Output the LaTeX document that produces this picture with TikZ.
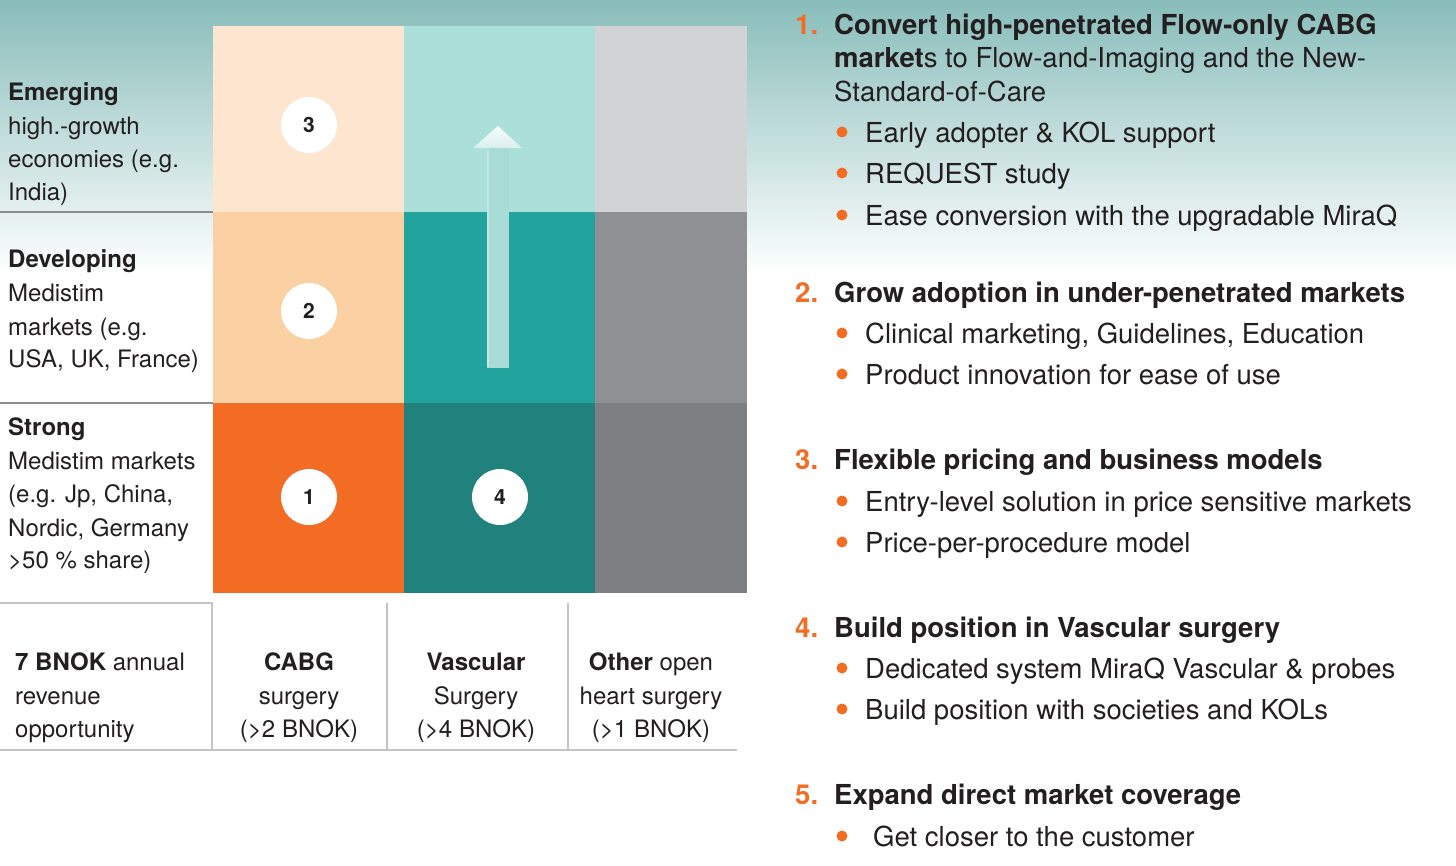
\documentclass[tikz,border=0pt]{standalone}
\usepackage{fontspec}
\setmainfont{TeX Gyre Heros}
\definecolor{txtc}{HTML}{231F20}
\definecolor{orng}{HTML}{F26C24}
\definecolor{peachA}{HTML}{FDE5D0}
\definecolor{peachB}{HTML}{FBD1A3}
\definecolor{tealA}{HTML}{ABDFD9}
\definecolor{tealB}{HTML}{23A39D}
\definecolor{tealC}{HTML}{21827D}
\definecolor{grayA}{HTML}{D2D3D5}
\definecolor{grayB}{HTML}{8F9094}
\definecolor{grayC}{HTML}{7E7F83}
\definecolor{bgtop}{HTML}{88BDBA}
\definecolor{arrowc}{HTML}{A9DBD6}
\definecolor{rule}{HTML}{8C8C8C}
\definecolor{rulelight}{HTML}{C4C4C4}
\tikzset{
  ltxt/.style={anchor=base west,inner sep=0pt,text=txtc,font=\fontsize{24}{28}\selectfont},
  rtxt/.style={anchor=base west,inner sep=0pt,text=txtc,font=\fontsize{27.5}{32}\selectfont},
  ctxt/.style={anchor=base,inner sep=0pt,text=txtc,font=\fontsize{24}{28}\selectfont},
  numlab/.style={anchor=base west,inner sep=0pt,text=orng,font=\fontsize{27.5}{32}\selectfont\bfseries},
  bdot/.style={circle,fill=orng,inner sep=0pt,minimum size=11pt},
  badge/.style={circle,fill=white,inner sep=0pt,minimum size=56pt,text=txtc,font=\fontsize{21}{24}\selectfont\bfseries},
  cell/.style={draw=none,inner sep=0pt}
}
\begin{document}
\begin{tikzpicture}[x=1pt,y=-1pt]
\useasboundingbox (0,0) rectangle (1456,865);
% background gradient
\fill[white] (0,0) rectangle (1456,865);
\shade[top color=bgtop,bottom color=white] (0,0) rectangle (1456,275);
% grid cells
\fill[peachA] (213,26) rectangle (404,212);
\fill[tealA] (404,26) rectangle (595,212);
\fill[grayA] (595,26) rectangle (747,212);
\fill[peachB] (213,212) rectangle (404,403);
\fill[tealB] (404,212) rectangle (595,403);
\fill[grayB] (595,212) rectangle (747,403);
\fill[orng] (213,403) rectangle (404,593);
\fill[tealC] (404,403) rectangle (595,593);
\fill[grayC] (595,403) rectangle (747,593);
% left separators
\coordinate (sa1) at (0,212); \coordinate (sa2) at (213,212);
\coordinate (sb1) at (0,403); \coordinate (sb2) at (213,403);
\draw[rule,line width=1.3pt] (sa1) -- (sa2);
\draw[rule,line width=1.3pt] (sb1) -- (sb2);
% arrow
\fill[arrowc] (487,148) rectangle (509,368);
\draw[white,opacity=0.35,line width=1.5pt] (488,150) -- (488,367);
\shade[top color=white!92!arrowc,bottom color=white!55!arrowc] (498,126) -- (522,148) -- (473,148) -- cycle;
% badges
\node[badge] (b3) at (309,125) {3};
\node[badge] (b2) at (309,311) {2};
\node[badge] (b1) at (309,497) {1};
\node[badge] (b4) at (500,497) {4};
% left labels
\node[ltxt] (e1) at (8,100.5) {\textbf{Emerging}};
\node[ltxt] (e2) at (8,134.5) {high.-growth};
\node[ltxt] (e3) at (8,167.5) {economies (e.g.};
\node[ltxt] (e4) at (8,200.5) {India)};
\node[ltxt] (d1) at (8,267.5) {\textbf{Developing}};
\node[ltxt] (d2) at (8,301.5) {Medistim};
\node[ltxt] (d3) at (8,335.5) {markets (e.g.};
\node[ltxt] (d4) at (8,367.5) {USA, UK, France)};
\node[ltxt] (s1) at (8,435.5) {\textbf{Strong}};
\node[ltxt] (s2) at (8,469.5) {Medistim markets};
\node[ltxt] (s3) at (8,502.5) {(e.g. Jp, China,};
\node[ltxt] (s4) at (8,536.5) {Nordic, Germany};
\node[ltxt] (s5) at (8,568.5) {>50 \% share)};
% bottom table lines
\coordinate (t1) at (0,603); \coordinate (t2) at (212,603);
\coordinate (t3) at (212,750); \coordinate (t4) at (0,750); \coordinate (t5) at (737,750);
\coordinate (v1a) at (387,603); \coordinate (v1b) at (387,750);
\coordinate (v2a) at (568,603); \coordinate (v2b) at (568,750);
\draw[rulelight,line width=1.5pt] (t1) -- (t2) -- (t3);
\draw[rulelight,line width=1.5pt] (t4) -- (t5);
\draw[rulelight,line width=1.2pt] (v1a) -- (v1b);
\draw[rulelight,line width=1.2pt] (v2a) -- (v2b);
% bottom table text
\node[ltxt] (o1) at (15,670.5) {\textbf{7 BNOK} annual};
\node[ltxt] (o2) at (15,704.5) {revenue};
\node[ltxt] (o3) at (15,737.5) {opportunity};
\node[ctxt] (c1) at (299,670.5) {\textbf{CABG}};
\node[ctxt] (c2) at (299,704.5) {surgery};
\node[ctxt] (c3) at (299,737.5) {(>2 BNOK)};
\node[ctxt] (vv1) at (476,670.5) {\textbf{Vascular}};
\node[ctxt] (vv2) at (476,704.5) {Surgery};
\node[ctxt] (vv3) at (476,737.5) {(>4 BNOK)};
\node[ctxt] (x1) at (651,670.5) {\textbf{Other} open};
\node[ctxt] (x2) at (651,704.5) {heart surgery};
\node[ctxt] (x3) at (651,737.5) {(>1 BNOK)};
% right side
\node[numlab] (n1) at (795,34) {1.};
\node[rtxt] (h1a) at (834,34) {\textbf{Convert high-penetrated Flow-only CABG}};
\node[rtxt] (h1b) at (834,67) {\textbf{market}s to Flow-and-Imaging and the New-};
\node[rtxt] (h1c) at (834,101) {Standard-of-Care};
\node[bdot] (d11) at (842,132) {}; \node[rtxt] (i11) at (865,142) {Early adopter \& KOL support};
\node[bdot] (d12) at (842,173) {}; \node[rtxt] (i12) at (865,183) {REQUEST study};
\node[bdot] (d13) at (842,215) {}; \node[rtxt] (i13) at (865,225) {Ease conversion with the upgradable MiraQ};
\node[numlab] (n2) at (795,302) {2.};
\node[rtxt] (h2) at (834,302) {\textbf{Grow adoption in under-penetrated markets}};
\node[bdot] (d21) at (842,333) {}; \node[rtxt] (i21) at (865,343) {Clinical marketing, Guidelines, Education};
\node[bdot] (d22) at (842,374) {}; \node[rtxt] (i22) at (865,384) {Product innovation for ease of use};
\node[numlab] (n3) at (795,469) {3.};
\node[rtxt] (h3) at (834,469) {\textbf{Flexible pricing and business models}};
\node[bdot] (d31) at (842,501) {}; \node[rtxt] (i31) at (865,511) {Entry-level solution in price sensitive markets};
\node[bdot] (d32) at (842,542) {}; \node[rtxt] (i32) at (865,552) {Price-per-procedure model};
\node[numlab] (n4) at (795,637) {4.};
\node[rtxt] (h4) at (834,637) {\textbf{Build position in Vascular surgery}};
\node[bdot] (d41) at (842,668) {}; \node[rtxt] (i41) at (865,678) {Dedicated system MiraQ Vascular \& probes};
\node[bdot] (d42) at (842,709) {}; \node[rtxt] (i42) at (865,719) {Build position with societies and KOLs};
\node[numlab] (n5) at (795,804) {5.};
\node[rtxt] (h5) at (834,804) {\textbf{Expand direct market coverage}};
\node[bdot] (d51) at (842,836) {}; \node[rtxt] (i51) at (873,846) {Get closer to the customer};
\end{tikzpicture}
\end{document}
